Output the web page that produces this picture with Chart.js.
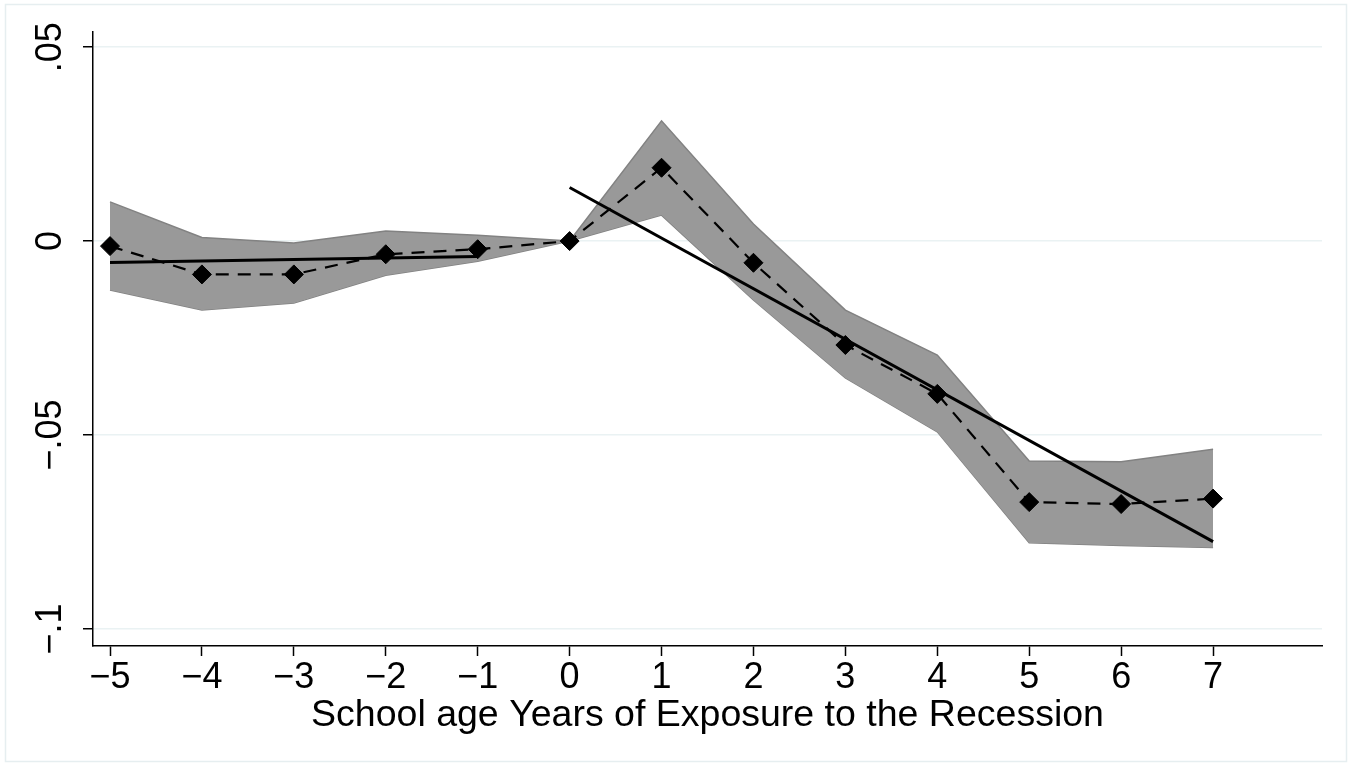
<!DOCTYPE html>
<html>
<head>
<meta charset="utf-8">
<script src="https://cdn.jsdelivr.net/npm/chart.js@4"></script>
<style>
  html, body { margin: 0; padding: 0; background: white; }
  #wrap { width: 1350px; height: 767px; }
</style>
</head>
<body>
<div id="wrap"><canvas id="grafico" width="1350" height="767"></canvas></div>
<script>
// anos de exposicao e estimativas
const anos = [-5, -4, -3, -2, -1, 0, 1, 2, 3, 4, 5, 6, 7];
const estimativa = [-0.0013, -0.0086, -0.0086, -0.0034, -0.0021, 0, 0.0189, -0.0056, -0.0268, -0.0394, -0.0673, -0.0678, -0.0664];
const limiteSup = [0.0101, 0.0009, -0.0005, 0.0026, 0.0015, 0, 0.031, 0.0044, -0.0178, -0.0294, -0.0567, -0.0569, -0.0537];
const limiteInf = [-0.0126, -0.0178, -0.016, -0.0088, -0.0052, 0, 0.0067, -0.0152, -0.0353, -0.0492, -0.0778, -0.0785, -0.079];

// retas ajustadas (antes e depois)
const ajusteAntesX = [-5, -1];
const ajusteAntesY = [-0.0055, -0.0040];
const ajusteDepoisX = [0, 7];
const ajusteDepoisY = [0.0138, -0.0775];

const ticksX = [-5, -4, -3, -2, -1, 0, 1, 2, 3, 4, 5, 6, 7];
const ticksXLabels = ['\u22125', '\u22124', '\u22123', '\u22122', '\u22121', '0', '1', '2', '3', '4', '5', '6', '7'];
const ticksY = [-0.1, -0.05, 0, 0.05];
const ticksYLabels = ['\u2212.1', '\u2212.05', '0', '.05'];

function pontos(xs, ys) {
  return xs.map((x, i) => ({ x: x, y: ys[i] }));
}

const moldura = {
  id: 'moldura',
  beforeDraw(chart) {
    const ctx = chart.ctx;
    ctx.save();
    ctx.fillStyle = 'white';
    ctx.fillRect(0, 0, chart.width, chart.height);
    ctx.strokeStyle = '#e6eef0';
    ctx.lineWidth = 1.5;
    ctx.strokeRect(5.5, 4.5, 1341, 757);
    ctx.restore();
  }
};

const fonte = { family: '"Liberation Sans", Arial, sans-serif', size: 36 };

const config = {
  type: 'scatter',
  data: {
    datasets: [
      {
        data: pontos(anos, estimativa),
        showLine: true,
        borderColor: 'black',
        borderWidth: 2.2,
        borderDash: [13, 9],
        pointStyle: 'rectRot',
        pointRadius: 9.5,
        pointBackgroundColor: 'black',
        pointBorderColor: 'black',
        pointBorderWidth: 1
      },
      {
        data: pontos(ajusteAntesX, ajusteAntesY),
        showLine: true,
        borderColor: 'black',
        borderWidth: 3,
        pointRadius: 0
      },
      {
        data: pontos(ajusteDepoisX, ajusteDepoisY),
        showLine: true,
        borderColor: 'black',
        borderWidth: 3,
        pointRadius: 0
      },
      {
        data: pontos(anos, limiteSup),
        showLine: true,
        borderColor: 'rgb(130,130,130)',
        borderWidth: 1.5,
        pointRadius: 0,
        backgroundColor: 'rgb(153,153,153)',
        fill: '+1'
      },
      {
        data: pontos(anos, limiteInf),
        showLine: true,
        borderColor: 'rgb(130,130,130)',
        borderWidth: 1.5,
        pointRadius: 0,
        fill: false
      }
    ]
  },
  options: {
    responsive: false,
    animation: false,
    layout: { padding: { left: 0, right: 28, top: 32, bottom: 0 } },
    plugins: { legend: { display: false }, tooltip: { enabled: false } },
    scales: {
      x: {
        type: 'linear',
        min: -5.185,
        max: 8.185,
        afterBuildTicks(scale) { scale.ticks = ticksX.map(v => ({ value: v })); },
        afterFit(scale) { scale.height = 121; },
        ticks: {
          color: 'black',
          font: fonte,
          padding: 0,
          maxRotation: 0,
          callback: (v) => ticksXLabels[ticksX.indexOf(v)]
        },
        grid: { display: true, drawOnChartArea: false, tickColor: 'black', tickLength: 10, tickWidth: 1.5 },
        border: { display: true, color: 'black', width: 1.5 },
        title: {
          display: true,
          text: 'School age Years of Exposure to the Recession',
          color: 'black',
          font: { family: '"Liberation Sans", Arial, sans-serif', size: 37.5 },
          padding: { top: 0, bottom: 29 }
        }
      },
      y: {
        min: -0.1044,
        max: 0.0539,
        afterBuildTicks(scale) { scale.ticks = ticksY.map(v => ({ value: v })); },
        afterFit(scale) { scale.width = 93; },
        ticks: {
          color: 'black',
          font: fonte,
          minRotation: 90,
          maxRotation: 90,
          crossAlign: 'center',
          padding: -4,
          callback: (v) => ticksYLabels[ticksY.indexOf(v)]
        },
        grid: { color: '#eaf2f3', lineWidth: 1.5, tickColor: 'black', tickLength: 10, tickWidth: 1.5 },
        border: { display: true, color: 'black', width: 1.5 }
      }
    }
  },
  plugins: [moldura]
};

var grafico = new Chart(document.getElementById('grafico'), config);
</script>
</body>
</html>
